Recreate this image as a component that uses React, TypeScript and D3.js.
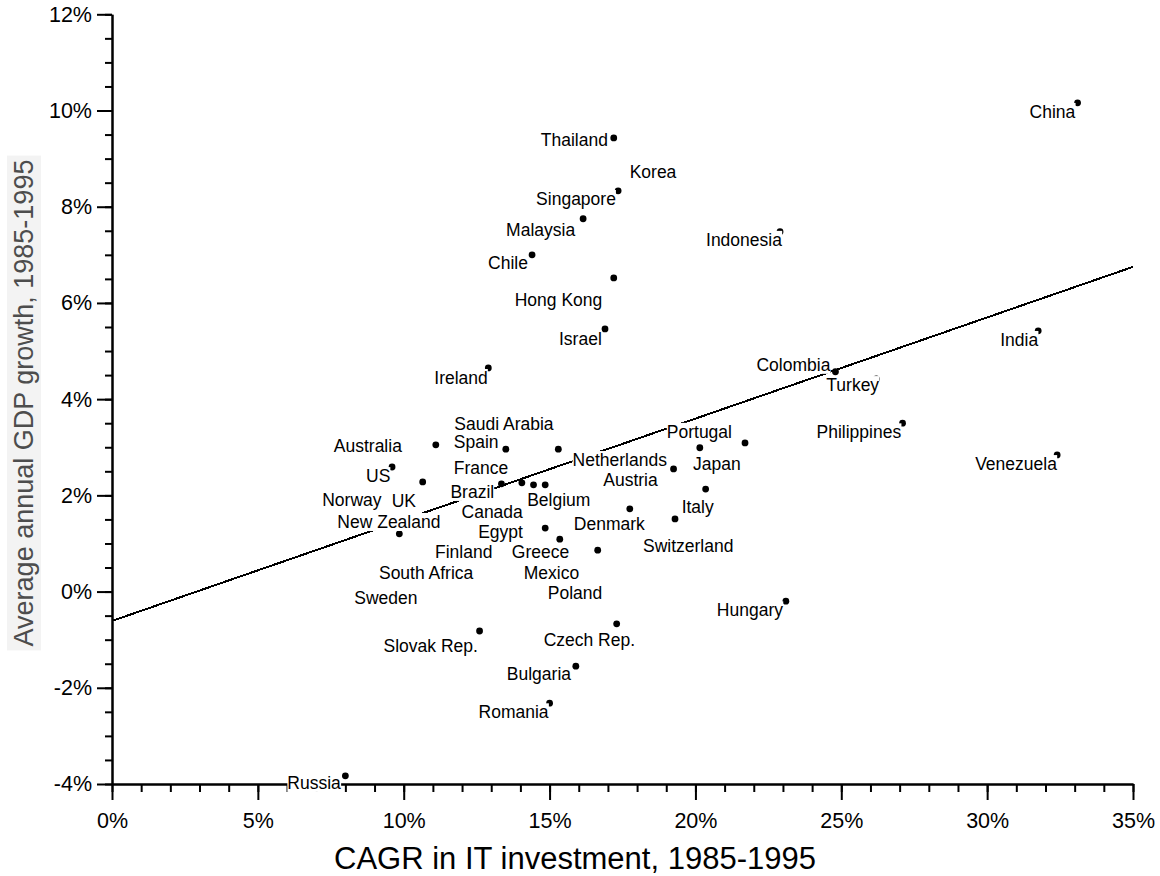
import React, { useEffect, useRef } from 'react';
import * as d3 from 'd3';

const countries = [
  'China', 'Thailand', 'Korea', 'Singapore', 'Malaysia', 'Indonesia', 'Chile', 'Hong Kong',
  'Israel', 'India', 'Ireland', 'Colombia', 'Turkey', 'Philippines', 'Australia', 'Saudi Arabia',
  'Spain', 'Portugal', 'Japan', 'Venezuela', 'US', 'Netherlands', 'UK', 'Brazil',
  'France', 'Canada', 'Belgium', 'Italy', 'Austria', 'Denmark', 'Switzerland', 'New Zealand',
  'Norway', 'Egypt', 'Greece', 'Mexico', 'Finland', 'South Africa', 'Sweden', 'Poland',
  'Hungary', 'Slovak Rep.', 'Czech Rep.', 'Bulgaria', 'Romania', 'Russia',
];

// CAGR in IT investment, 1985-1995 (%)
const itCagr = [
  33.1, 17.2, 18.5, 17.35, 16.15, 22.9, 14.4, 17.2,
  16.9, 31.75, 12.9, 24.8, 26.2, 27.1, 11.1, 15.3,
  13.5, 20.15, 21.7, 32.4, 9.6, 19.25, 10.65, 13.35,
  14.05, 14.45, 14.85, 20.35, 17.8, 17.75, 19.3, 9.85,
  8.2, 14.85, 15.35, 16.65, 12.1, 10.9, 9.4, 15.9,
  23.1, 12.6, 17.3, 15.9, 15.0, 8.0,
];

// average annual GDP growth, 1985-1995 (%)
const gdpGrowth = [
  10.16, 9.43, 8.72, 8.33, 7.75, 7.48, 7.0, 6.52,
  5.46, 5.42, 4.65, 4.57, 4.42, 3.5, 3.05, 2.96,
  2.96, 2.99, 3.09, 2.84, 2.59, 2.55, 2.28, 2.24,
  2.26, 2.22, 2.22, 2.13, 2.32, 1.72, 1.51, 1.2,
  1.9, 1.32, 1.09, 0.86, 0.82, 0.39, -0.13, -0.03,
  -0.2, -0.82, -0.67, -1.55, -2.32, -3.83,
];

// regression line end points
const trendX = [0, 35];
const trendY = [-0.61, 6.75];

const xTicks = [0, 5, 10, 15, 20, 25, 30, 35];
const yTicks = [-4, -2, 0, 2, 4, 6, 8, 10, 12];

// label placement: text start and text centre, in px from the dot
const labelOffsets: [number, number][] = [
  [-48, 9], [-73, 2], [-22, 0], [-82, 8], [-77, 11], [-74, 8], [-44, 8], [-99, 22],
  [-46, 10], [-38, 9], [-54, 10], [-79, -7], [-50, 6], [-86, 9], [-102, 1], [-104, -25],
  [-52, -7], [-33, -16], [-52, 21], [-82, 9], [-26, 9], [-101, -9], [-31, 19], [-51, 8],
  [-68, -15], [-72, 27], [-18, 15], [-24, 18], [-28, 0], [-56, 15], [-32, 27], [-62, -12],
  [-29, 0], [-67, 4], [-48, 13], [-74, 23], [-30, 0], [-51, 0], [-32, 0], [-28, 0],
  [-69, 9], [-96, 15], [-73, 16], [-69, 8], [-71, 9], [-58, 7],
];

const font = '"Liberation Sans", Arial, sans-serif';

const App = () => {
  const ref = useRef<SVGSVGElement>(null);

  useEffect(() => {
    const svg = d3.select(ref.current);
    svg.selectAll('*').remove();

    const x = d3.scaleLinear().domain([0, 35]).range([112, 1133]);
    const y = d3.scaleLinear().domain([-4, 12]).range([784, 14.3]);

    const points = countries.map((name, i) => ({
      name,
      x: itCagr[i],
      y: gdpGrowth[i],
      off: labelOffsets[i],
    }));

    // y axis title on a faint panel
    const title = svg.append('g').attr('transform', 'translate(33,403) rotate(-90)');
    const yt = title.append('text')
      .attr('text-anchor', 'middle')
      .attr('font-family', font)
      .attr('font-size', 27)
      .attr('fill', '#4d4d4d')
      .text('Average annual GDP growth, 1985-1995');
    const tb = (yt.node() as SVGTextElement).getBBox();
    title.insert('rect', 'text')
      .attr('x', tb.x - 4).attr('y', tb.y - 2)
      .attr('width', tb.width + 8).attr('height', tb.height + 4)
      .attr('fill', '#f3f3f3');

    // dots
    svg.append('g')
      .selectAll('circle')
      .data(points)
      .join('circle')
      .attr('cx', (d) => x(d.x))
      .attr('cy', (d) => y(d.y))
      .attr('r', 3.4)
      .attr('fill', '#000');

    // trend line
    svg.append('path')
      .datum(trendX.map((v, i) => [v, trendY[i]] as [number, number]))
      .attr('d', d3.line().x((d) => x(d[0])).y((d) => y(d[1])))
      .attr('stroke', '#000')
      .attr('stroke-width', 2)
      .attr('fill', 'none')
      .attr('shape-rendering', 'crispEdges');

    // axes: minor ticks, then major ticks with labels
    const styleAxis = (g: any) => {
      g.selectAll('path, line').attr('stroke', '#000').attr('stroke-width', 2);
      g.selectAll('text').attr('font-family', font).attr('font-size', 21.5).attr('fill', '#000');
    };

    svg.append('g')
      .attr('transform', 'translate(112,0)')
      .call(d3.axisLeft(y).tickValues(d3.range(-4, 12.01, 0.5)).tickSize(7).tickSizeOuter(0).tickFormat(() => ''))
      .call(styleAxis);
    svg.append('g')
      .attr('transform', 'translate(112,0)')
      .call(d3.axisLeft(y).tickValues(yTicks).tickSize(15).tickSizeOuter(0).tickPadding(5).tickFormat((d) => `${d}%`))
      .call(styleAxis);

    svg.append('g')
      .attr('transform', 'translate(0,784)')
      .call(d3.axisBottom(x).tickValues(d3.range(0, 35.01, 1)).tickSize(8).tickSizeOuter(0).tickFormat(() => ''))
      .call(styleAxis);
    svg.append('g')
      .attr('transform', 'translate(0,784)')
      .call(d3.axisBottom(x).tickValues(xTicks).tickSize(16).tickSizeOuter(0).tickPadding(13).tickFormat((d) => `${d}%`))
      .call(styleAxis);

    svg.append('text')
      .attr('x', 575)
      .attr('y', 869)
      .attr('text-anchor', 'middle')
      .attr('font-family', font)
      .attr('font-size', 31)
      .attr('fill', '#000')
      .text('CAGR in IT investment, 1985-1995');

    // country labels on opaque boxes, covering what lies below
    const labels = svg.append('g');
    points.forEach((d) => {
      const g = labels.append('g');
      const t = g.append('text')
        .attr('x', x(d.x) + d.off[0])
        .attr('y', y(d.y) + d.off[1])
        .attr('dy', '0.35em')
        .attr('font-family', font)
        .attr('font-size', 17.5)
        .attr('fill', '#000')
        .text(d.name);
      const b = (t.node() as SVGTextElement).getBBox();
      g.insert('rect', 'text')
        .attr('x', b.x)
        .attr('y', b.y + 1)
        .attr('width', b.width)
        .attr('height', b.height - 2)
        .attr('fill', '#fff');
    });
  }, []);

  return (
    <svg
      ref={ref}
      width={1160}
      height={876}
      style={{ position: 'absolute', left: 0, top: 0, background: '#fff' }}
    />
  );
};

export default App;
